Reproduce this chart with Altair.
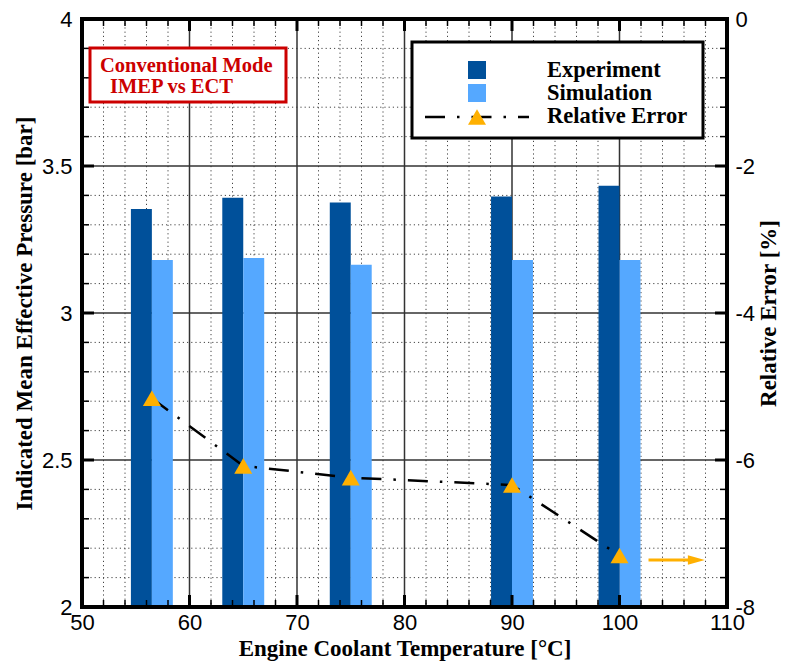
import altair as alt
import pandas as pd

# ---- data -------------------------------------------------------------
temps = [56.5, 65, 75, 90, 100]                      # engine coolant temperature [°C]
imep_exp = [3.354, 3.392, 3.376, 3.396, 3.433]       # IMEP, experiment [bar]
imep_sim = [3.180, 3.187, 3.164, 3.180, 3.180]       # IMEP, simulation [bar]
rel_err = [-5.16, -6.08, -6.24, -6.34, -7.30]        # relative error [%]

series_names = ["Experiment", "Simulation", "Relative Error"]
note_lines = ["Conventional Mode", "IMEP vs ECT"]

x_major = [50, 60, 70, 80, 90, 100, 110]
x_minor = [52, 54, 56, 58, 62, 64, 66, 68, 72, 74, 76, 78,
           82, 84, 86, 88, 92, 94, 96, 98, 102, 104, 106, 108]
y_major = [2, 2.5, 3, 3.5, 4]
y_minor = [2.1, 2.2, 2.3, 2.4, 2.6, 2.7, 2.8, 2.9,
           3.1, 3.2, 3.3, 3.4, 3.6, 3.7, 3.8, 3.9]
e_major = [-8, -6, -4, -2, 0]
e_minor = [-7.6, -7.2, -6.8, -6.4, -5.6, -5.2, -4.8, -4.4,
           -3.6, -3.2, -2.8, -2.4, -1.6, -1.2, -0.8, -0.4]

arrow_x = [102.7, 106.6]
arrow_head_x = 107.15
arrow_y = -7.36

# ---- styling ----------------------------------------------------------
W, H = 645, 588
C_EXP = "#00509a"
C_SIM = "#55a8ff"
C_TRI = "#ffb000"
C_RED = "#cc0000"
SERIF = "Liberation Serif"
SANS = "Liberation Sans"
TITLE_SIZE = 23
BAR_W = 1.95
DASHDOT = [20, 12, 2.5, 12]
MAJ_LEN, MIN_LEN = 12, 7

x_scale = alt.Scale(domain=[50, 110], nice=False, zero=False)
yl_scale = alt.Scale(domain=[2, 4], nice=False, zero=False)
yr_scale = alt.Scale(domain=[-8, 0], nice=False, zero=False)

x_axis = alt.Axis(
    values=x_major, ticks=False, tickSize=0, domain=False, grid=False,
    labelFont=SANS, labelFontSize=22, labelColor="black", labelPadding=5,
    labelFlush=False, labelOverlap=False, labelBound=False,
    title="Engine Coolant Temperature [°C]", titleFont=SERIF, titleFontSize=TITLE_SIZE,
    titleFontWeight="bold", titleColor="black", titleX=W / 2, titleY=48,
    titleAlign="center", titleBaseline="alphabetic",
)
yl_axis = alt.Axis(
    values=y_major, labelExpr="datum.value + ''", ticks=False, tickSize=0,
    domain=False, grid=False, labelFont=SANS, labelFontSize=22,
    labelColor="black", labelPadding=10, labelOverlap=False, labelBound=False,
    labelFlush=False,
    title="Indicated Mean Effective Pressure [bar]", titleFont=SERIF,
    titleFontSize=TITLE_SIZE, titleFontWeight="bold", titleColor="black",
    titleAngle=270, titleX=-51, titleY=H / 2, titleAlign="center",
    titleBaseline="alphabetic",
)
yr_axis = alt.Axis(
    orient="right", values=e_major, labelExpr="datum.value + ''", ticks=False,
    tickSize=0, domain=False, grid=False, labelFont=SANS, labelFontSize=22,
    labelColor="black", labelPadding=8, labelOverlap=False, labelBound=False,
    labelFlush=False, labelAlign="left",
    title="Relative Error [%]", titleFont=SERIF, titleFontSize=TITLE_SIZE,
    titleFontWeight="bold", titleColor="black", titleAngle=270, titleX=48,
    titleY=H / 2, titleAlign="center", titleBaseline="alphabetic",
)


def vrules(values, y, y2, **style):
    return alt.Chart(pd.DataFrame({"x": values})).mark_rule(**style).encode(
        x=alt.X("x:Q", scale=x_scale, axis=x_axis), y=alt.value(y), y2=alt.value(y2))


def hrules(values, scale, axis, x, x2, **style):
    return alt.Chart(pd.DataFrame({"y": values})).mark_rule(**style).encode(
        y=alt.Y("y:Q", scale=scale, axis=axis), x=alt.value(x), x2=alt.value(x2))


one = pd.DataFrame({"k": [0]})

# ---- grid -------------------------------------------------------------
minor_style = dict(color="#444444", strokeWidth=1, strokeDash=[1.2, 3])
major_style = dict(color="#333333", strokeWidth=1.5)
grid = [
    vrules(x_minor, 0, H, **minor_style),
    hrules(y_minor, yl_scale, yl_axis, 0, W, **minor_style),
    vrules(x_major[1:-1], 0, H, **major_style),
    hrules(y_major[1:-1], yl_scale, yl_axis, 0, W, **major_style),
]

# ---- bars -------------------------------------------------------------
bars_df = pd.DataFrame({
    "series": ["Experiment"] * len(temps) + ["Simulation"] * len(temps),
    "ect": temps + temps,
    "imep": imep_exp + imep_sim,
})
bars_df["x0"] = [t - BAR_W for t in temps] + temps
bars_df["x1"] = temps + [t + BAR_W for t in temps]

bars = alt.Chart(bars_df).mark_rect().encode(
    x=alt.X("x0:Q", scale=x_scale, axis=x_axis),
    x2="x1:Q",
    y=alt.Y("imep:Q", scale=yl_scale, axis=yl_axis),
    y2=alt.datum(2),
    color=alt.Color("series:N", scale=alt.Scale(domain=series_names[:2],
                                                range=[C_EXP, C_SIM]), legend=None),
)

# ---- inward ticks -----------------------------------------------------
maj_t = dict(color="black", strokeWidth=3)
min_t = dict(color="black", strokeWidth=1.5)
ticks_left = [
    vrules(x_major[1:-1], H, H - MAJ_LEN, **maj_t),
    vrules(x_minor, H, H - MIN_LEN, **min_t),
    vrules(x_major[1:-1], 0, MAJ_LEN, **maj_t),
    vrules(x_minor, 0, MIN_LEN, **min_t),
    hrules(y_major[1:-1], yl_scale, yl_axis, 0, MAJ_LEN, **maj_t),
    hrules(y_minor, yl_scale, yl_axis, 0, MIN_LEN, **min_t),
]

left = alt.layer(*grid, bars, *ticks_left)

# ---- relative error ---------------------------------------------------
err_df = pd.DataFrame({"ect": temps, "err": rel_err})
err_line = alt.Chart(err_df).mark_line(
    color="black", strokeWidth=2.5, strokeDash=DASHDOT).encode(
    x=alt.X("ect:Q", scale=x_scale, axis=x_axis),
    y=alt.Y("err:Q", scale=yr_scale, axis=yr_axis),
)
err_pts = alt.Chart(err_df).mark_point(
    shape="triangle-up", filled=True, size=324, color=C_TRI, opacity=1,
    strokeWidth=0).encode(
    x=alt.X("ect:Q", scale=x_scale, axis=x_axis),
    y=alt.Y("err:Q", scale=yr_scale, axis=yr_axis),
)

ticks_right = [
    hrules(e_major[1:-1], yr_scale, yr_axis, W, W - MAJ_LEN, **maj_t),
    hrules(e_minor, yr_scale, yr_axis, W, W - MIN_LEN, **min_t),
]

# arrow pointing to the relative-error axis
arrow_df = pd.DataFrame({"x0": [arrow_x[0]], "x1": [arrow_x[1]],
                         "xh": [arrow_head_x], "y": [arrow_y]})
arrow_shaft = alt.Chart(arrow_df).mark_rule(color=C_TRI, strokeWidth=3).encode(
    x=alt.X("x0:Q", scale=x_scale, axis=x_axis), x2="x1:Q",
    y=alt.Y("y:Q", scale=yr_scale, axis=yr_axis),
)
arrow_head = alt.Chart(arrow_df).mark_point(
    shape="M -1 -0.55 L 1 0 L -1 0.55 Z", filled=True, size=289, color=C_TRI,
    opacity=1, strokeWidth=0).encode(
    x=alt.X("xh:Q", scale=x_scale, axis=x_axis),
    y=alt.Y("y:Q", scale=yr_scale, axis=yr_axis),
)

# ---- legend -----------------------------------------------------------
legend_box = alt.Chart(one).mark_rect(
    fill="white", stroke="black", strokeWidth=3).encode(
    x=alt.value(330), x2=alt.value(621), y=alt.value(23), y2=alt.value(119))
leg_sq_exp = alt.Chart(one).mark_square(size=324, color=C_EXP, opacity=1).encode(
    x=alt.value(395), y=alt.value(51))
leg_sq_sim = alt.Chart(one).mark_square(size=324, color=C_SIM, opacity=1).encode(
    x=alt.value(395), y=alt.value(74))
leg_line = alt.Chart(one).mark_rule(
    color="black", strokeWidth=2.5, strokeDash=DASHDOT).encode(
    x=alt.value(343), x2=alt.value(447), y=alt.value(98))
leg_tri = alt.Chart(one).mark_point(
    shape="triangle-up", filled=True, size=324, color=C_TRI, opacity=1,
    strokeWidth=0).encode(x=alt.value(395), y=alt.value(98))
leg_texts = [
    alt.Chart(one).mark_text(
        font=SERIF, fontSize=22.5, fontWeight="bold", color="black",
        align="left", baseline="alphabetic").encode(
        x=alt.value(465), y=alt.value(yy), text=alt.value(name))
    for name, yy in zip(series_names, [58, 81, 104])
]

# ---- note box ---------------------------------------------------------
note_box = alt.Chart(one).mark_rect(
    fill="white", stroke=C_RED, strokeWidth=3).encode(
    x=alt.value(8), x2=alt.value(204), y=alt.value(29), y2=alt.value(83))
note_texts = [
    alt.Chart(one).mark_text(
        font=SERIF, fontSize=20.5, fontWeight="bold", color=C_RED,
        align="left", baseline="alphabetic").encode(
        x=alt.value(xx), y=alt.value(yy), text=alt.value(line))
    for line, xx, yy in zip(note_lines, [18, 28], [53, 74])
]

# ---- frame ------------------------------------------------------------
frame = alt.Chart(one).mark_rect(
    fillOpacity=0, stroke="black", strokeWidth=4).encode(
    x=alt.value(0), x2=alt.value(W), y=alt.value(0), y2=alt.value(H))

right = alt.layer(err_line, err_pts, *ticks_right, arrow_shaft, arrow_head,
                  legend_box, leg_sq_exp, leg_sq_sim, leg_line, leg_tri,
                  *leg_texts, note_box, *note_texts, frame)

chart = alt.layer(left, right).resolve_scale(y="independent").properties(
    width=W, height=H,
    padding={"left": 82, "top": 19, "right": 74, "bottom": 55},
    autosize="none",
    background="white",
).configure_view(stroke="transparent")

chart.save("out.html", embed_options={"renderer": "svg", "actions": False})
